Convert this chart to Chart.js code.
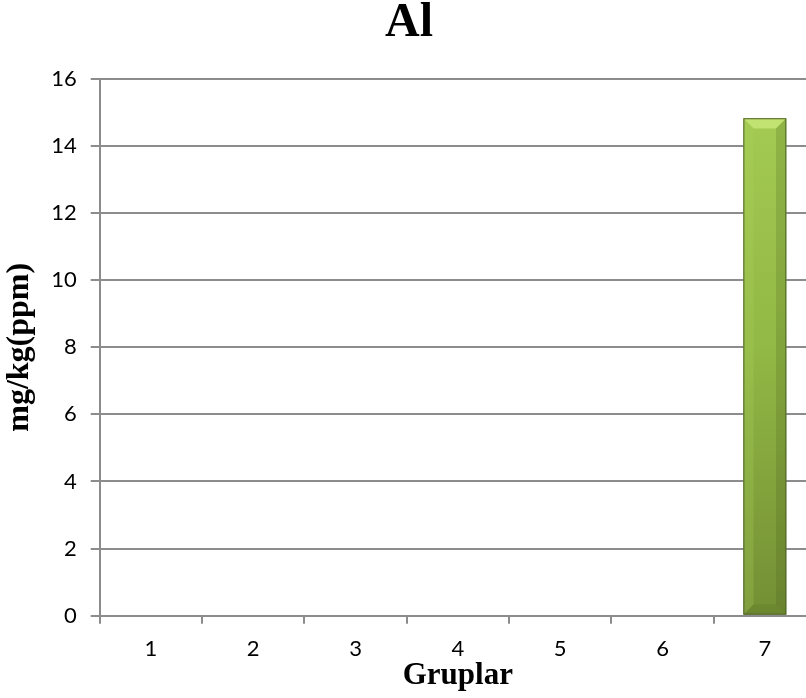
<!DOCTYPE html>
<html>
<head>
<meta charset="utf-8">
<script src="https://cdn.jsdelivr.net/npm/chart.js@4"></script>
<style>
  html, body { margin: 0; padding: 0; background: #fff; overflow: hidden; }
  #wrap { width: 806px; height: 698px; overflow: hidden; }
  #box { width: 828px; height: 698px; }
</style>
</head>
<body>
<div id="wrap"><div id="box"><canvas id="alChart"></canvas></div></div>
<script>
const groups = ['1', '2', '3', '4', '5', '6', '7'];
const alValues = [0, 0, 0, 0, 0, 0, 14.83];
const yTicks = [0, 2, 4, 6, 8, 10, 12, 14, 16];

const gridColor = '#8c8c8c';
const serif = '"Liberation Serif", "Times New Roman", serif';
const sans = 'Lato, "Open Sans", sans-serif';

// green bar with a bevelled top edge
const bevelBars = {
  id: 'bevelBars',
  afterDatasetsDraw(chart) {
    const ctx = chart.ctx;
    chart.getDatasetMeta(0).data.forEach(bar => {
      const h = bar.base - bar.y;
      if (h <= 0) return;
      const left = bar.x - bar.width / 2;
      const right = bar.x + bar.width / 2;
      const b = Math.min(bar.width * 0.24, h / 2);
      ctx.save();
      // top bevel
      ctx.beginPath();
      ctx.moveTo(left, bar.y);
      ctx.lineTo(right, bar.y);
      ctx.lineTo(right - b, bar.y + b);
      ctx.lineTo(left + b, bar.y + b);
      ctx.closePath();
      ctx.fillStyle = 'rgba(200,232,120,0.8)';
      ctx.fill();
      // left edge highlight
      ctx.beginPath();
      ctx.moveTo(left, bar.y);
      ctx.lineTo(left + b, bar.y + b);
      ctx.lineTo(left + b, bar.base - b);
      ctx.lineTo(left, bar.base);
      ctx.closePath();
      ctx.fillStyle = 'rgba(170,210,90,0.25)';
      ctx.fill();
      // right edge shade
      ctx.beginPath();
      ctx.moveTo(right, bar.y);
      ctx.lineTo(right - b, bar.y + b);
      ctx.lineTo(right - b, bar.base - b);
      ctx.lineTo(right, bar.base);
      ctx.closePath();
      ctx.fillStyle = 'rgba(60,80,20,0.18)';
      ctx.fill();
      // bottom edge shade
      ctx.beginPath();
      ctx.moveTo(left, bar.base);
      ctx.lineTo(left + b, bar.base - b);
      ctx.lineTo(right - b, bar.base - b);
      ctx.lineTo(right, bar.base);
      ctx.closePath();
      ctx.fillStyle = 'rgba(60,80,20,0.12)';
      ctx.fill();
      ctx.strokeStyle = '#4f6228';
      ctx.lineWidth = 1;
      ctx.strokeRect(left + 0.5, bar.y + 0.5, bar.width - 1, h - 1);
      ctx.restore();
    });
  }
};

function barGradient(context) {
  const chart = context.chart;
  const area = chart.chartArea;
  if (!area) return '#8fb13e';
  const g = chart.ctx.createLinearGradient(0, area.top, 0, area.bottom);
  g.addColorStop(0, '#a6cd54');
  g.addColorStop(0.5, '#92b845');
  g.addColorStop(1, '#738f34');
  return g;
}

new Chart(document.getElementById('alChart'), {
  type: 'bar',
  data: {
    labels: groups,
    datasets: [{
      data: alValues,
      backgroundColor: barGradient,
      borderWidth: 0,
      barPercentage: 1,
      categoryPercentage: 0.42
    }]
  },
  options: {
    responsive: true,
    maintainAspectRatio: false,
    animation: false,
    layout: { padding: { top: 0, right: 12, bottom: 4, left: 2 } },
    plugins: {
      legend: { display: false },
      tooltip: { enabled: false },
      title: {
        display: true,
        text: 'Al',
        color: '#000',
        font: { family: serif, size: 48, weight: 'bold', lineHeight: 1.0 },
        padding: { top: 0, bottom: 31 }
      }
    },
    scales: {
      x: {
        offset: true,
        grid: {
          offset: true,
          drawOnChartArea: false,
          drawTicks: true,
          tickLength: 8,
          color: gridColor,
          lineWidth: 2
        },
        border: { color: gridColor, width: 2 },
        ticks: {
          color: '#000',
          padding: 12,
          font: { family: sans, size: 22 }
        },
        title: {
          display: true,
          text: 'Gruplar',
          color: '#000',
          padding: { top: -16, bottom: 0 },
          font: { family: serif, size: 31, weight: 'bold', lineHeight: 1.16 }
        }
      },
      y: {
        min: 0,
        max: 16,
        afterBuildTicks(scale) {
          scale.ticks = yTicks.map(v => ({ value: v }));
        },
        grid: {
          color: gridColor,
          lineWidth: 2,
          drawTicks: true,
          tickLength: 9
        },
        border: { color: gridColor, width: 2 },
        ticks: {
          color: '#000',
          padding: 14,
          font: { family: sans, size: 22 }
        },
        title: {
          display: true,
          text: 'mg/kg(ppm)',
          color: '#000',
          padding: { top: 0, bottom: 0 },
          font: { family: serif, size: 32, weight: 'bold', lineHeight: 1.1 }
        }
      }
    }
  },
  plugins: [bevelBars]
});
</script>
</body>
</html>
